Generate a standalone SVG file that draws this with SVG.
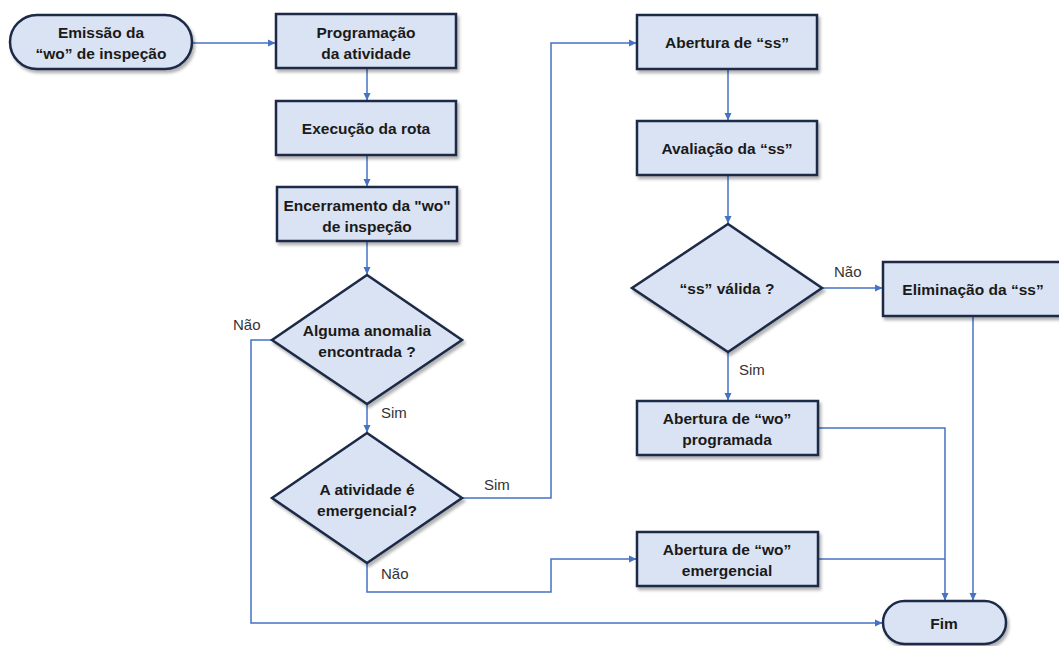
<svg xmlns="http://www.w3.org/2000/svg" width="1059" height="646" viewBox="0 0 1059 646">
<defs>
<filter id="sh" x="-10%" y="-10%" width="125%" height="135%">
<feDropShadow dx="2" dy="3" stdDeviation="1.6" flood-color="#000" flood-opacity="0.3"/>
</filter>
<marker id="ar" markerWidth="8" markerHeight="8" refX="7" refY="4" orient="auto" markerUnits="userSpaceOnUse">
<path d="M0,0.5 L7.5,4 L0,7.5 Z" fill="#4472c4"/>
</marker>
<style>
.n{fill:#dae3f3;stroke:#1b2a47;stroke-width:2.5;filter:url(#sh)}
.t{font-family:"Liberation Sans",Arial,sans-serif;font-weight:bold;font-size:15.5px;fill:#1a1a1a;text-anchor:middle}
.l{font-family:"Liberation Sans",Arial,sans-serif;font-size:15px;fill:#333}
.c{fill:none;stroke:#4472c4;stroke-width:1.5}
.a{marker-end:url(#ar)}
</style>
</defs>
<rect width="1059" height="646" fill="#fff"/>
<g id="connectors">
<path class="c a" d="M192 43 H275"/>
<path class="c a" d="M367 68 V100"/>
<path class="c a" d="M367 155 V186"/>
<path class="c a" d="M367 241 V274"/>
<path class="c a" d="M272 340 H251 V623 H882"/>
<path class="c a" d="M367 404 V432"/>
<path class="c a" d="M462 498 H551 V43 H636"/>
<path class="c a" d="M367 563 V592 H551 V559 H636"/>
<path class="c a" d="M728 69 V120"/>
<path class="c a" d="M728 175 V223"/>
<path class="c a" d="M822 288 H882"/>
<path class="c a" d="M728 352 V400"/>
<path class="c a" d="M818 428 H945 V600"/>
<path class="c" d="M818 559 H945"/>
<path class="c a" d="M973 316 V600"/>
</g>
<g id="labels">
<text class="l" x="233" y="330">Não</text>
<text class="l" x="381" y="418">Sim</text>
<text class="l" x="484" y="490">Sim</text>
<text class="l" x="381" y="579">Não</text>
<text class="l" x="834" y="277">Não</text>
<text class="l" x="739" y="375">Sim</text>
</g>
<g id="start">
<rect class="n" x="10" y="15" width="182" height="54" rx="27"/>
<text class="t" x="101" y="38">Emissão da</text>
<text class="t" x="101" y="59">“wo” de inspeção</text>
</g>
<g id="programacao">
<rect class="n" x="276" y="14" width="180" height="54"/>
<text class="t" x="366" y="38">Programação</text>
<text class="t" x="366" y="59">da atividade</text>
</g>
<g id="execucao">
<rect class="n" x="276" y="101" width="180" height="54"/>
<text class="t" x="366" y="134">Execução da rota</text>
</g>
<g id="encerramento">
<rect class="n" x="277" y="187" width="180" height="54"/>
<text class="t" x="367" y="211">Encerramento da "wo"</text>
<text class="t" x="367" y="232">de inspeção</text>
</g>
<g id="d_anomalia">
<polygon class="n" points="367,275 462,340 367,404 272,340"/>
<text class="t" x="367" y="336">Alguma anomalia</text>
<text class="t" x="367" y="357">encontrada ?</text>
</g>
<g id="d_emergencial">
<polygon class="n" points="367,433 462,498 367,563 272,498"/>
<text class="t" x="367" y="495">A atividade é</text>
<text class="t" x="367" y="516">emergencial?</text>
</g>
<g id="abertura_ss">
<rect class="n" x="637" y="15" width="180" height="54"/>
<text class="t" x="727" y="48">Abertura de “ss”</text>
</g>
<g id="avaliacao">
<rect class="n" x="637" y="121" width="180" height="54"/>
<text class="t" x="727" y="154">Avaliação da “ss”</text>
</g>
<g id="d_valida">
<polygon class="n" points="728,224 822,288 728,352 632,288"/>
<text class="t" x="727" y="294">“ss” válida ?</text>
</g>
<g id="eliminacao">
<rect class="n" x="883" y="262" width="180" height="54"/>
<text class="t" x="973" y="295">Eliminação da “ss”</text>
</g>
<g id="wo_programada">
<rect class="n" x="637" y="401" width="181" height="54"/>
<text class="t" x="727" y="424">Abertura de “wo”</text>
<text class="t" x="727" y="445">programada</text>
</g>
<g id="wo_emergencial">
<rect class="n" x="637" y="532" width="181" height="54"/>
<text class="t" x="727" y="555">Abertura de “wo”</text>
<text class="t" x="727" y="576">emergencial</text>
</g>
<g id="fim">
<rect class="n" x="883" y="601" width="123" height="43" rx="21.5"/>
<text class="t" x="944" y="629">Fim</text>
</g>
</svg>
